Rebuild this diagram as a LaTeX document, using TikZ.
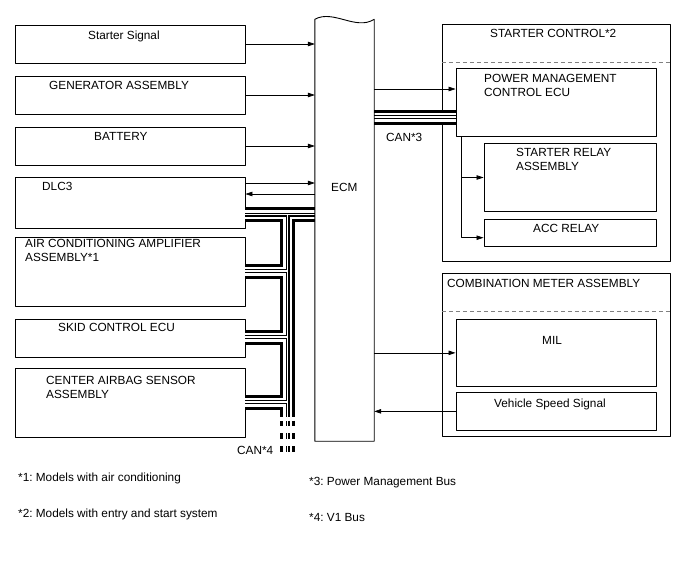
\documentclass[tikz,border=0pt]{standalone}
\usepackage{fontspec}
\setmainfont{Liberation Sans}
\usetikzlibrary{arrows.meta}
\frenchspacing

\begin{document}
\begin{tikzpicture}[>={Triangle[length=7pt,width=4.5pt]},line join=round,x=1pt,y=-1pt,
	font=\fontsize{11.8}{14}\selectfont,
	box/.style={draw,rectangle,inner sep=0pt,line width=.9pt},
	txt/.style={anchor=west,inner sep=0pt,align=left,text height=8.1pt,text depth=0pt},
	txttwo/.style={anchor=north west,inner sep=0pt,align=left},
	sig/.style={line width=.7pt},
	sep/.style={gray,line width=.7pt,dash pattern=on 4pt off 3pt}]
	\useasboundingbox (0,0) rectangle (688,560);
	\path
	(0,183) coordinate (dlcin)
	(0,194) coordinate (dlcout)
	(0,89) coordinate (pmcin)
	(461,0) coordinate (tap)
	(0,237.7) coordinate (acctap)
	(0,62.3) coordinate (ctlsep)
	(0,311) coordinate (metersep)
	(287.5,214.5) coordinate (top4)
	(287.5,271) coordinate (acbus)
	(287.5,337) coordinate (skidbus)
	(287.5,402) coordinate (bagbus)
	(287.5,417) coordinate (end4)
	(287.5,420.7) coordinate (dash4)
	(287.5,452) coordinate (low4)
	(0,117) coordinate (can3)
	;
	% left blocks
	\node[box,minimum width=230pt,minimum height=38pt] (starter) at (130,44) {};
	\node[box,minimum width=230pt,minimum height=38pt] (gen) at (130,95) {};
	\node[box,minimum width=230pt,minimum height=38pt] (batt) at (130,146) {};
	\node[box,minimum width=230pt,minimum height=51pt] (dlc) at (130,202.5) {};
	\node[box,minimum width=230pt,minimum height=69pt] (ac) at (130,271.5) {};
	\node[box,minimum width=230pt,minimum height=38pt] (skid) at (130,338) {};
	\node[box,minimum width=230pt,minimum height=69pt] (airbag) at (130,402.5) {};
	\node[txt] (startert) at (88,35) {Starter Signal};
	\node[txt] (gent) at (49,85) {GENERATOR ASSEMBLY};
	\node[txt] (battt) at (94,136) {BATTERY};
	\node[txt] (dlct) at (42,186) {DLC3};
	\node[txttwo] (act) at (25,239) {AIR CONDITIONING AMPLIFIER\\ASSEMBLY*1};
	\node[txt] (skidt) at (58,327) {SKID CONTROL ECU};
	\node[txttwo] (airbagt) at (46,376) {CENTER AIRBAG SENSOR\\ASSEMBLY};
	% ECM
	\node[inner sep=0pt,minimum width=59pt,minimum height=421.5pt] (ecm) at (344.5,230.25) {};
	\node[txt] (ecmt) at (331,187) {ECM};
	% right blocks
	\node[box,minimum width=228.4pt,minimum height=237pt] (ctl) at (556.5,142.5) {};
	\node[box,minimum width=200.7pt,minimum height=67.7pt] (pmc) at (556.35,102.15) {};
	\node[box,minimum width=172.7pt,minimum height=68.4pt] (relay) at (570.35,177.5) {};
	\node[box,minimum width=172.7pt,minimum height=27pt] (acc) at (570.35,232.5) {};
	\node[box,minimum width=228.4pt,minimum height=163.4pt] (meter) at (556.5,355) {};
	\node[box,minimum width=200.7pt,minimum height=67.7pt] (mil) at (556.35,352.85) {};
	\node[box,minimum width=200.7pt,minimum height=37.3pt] (vss) at (556.35,411.35) {};
	\node[txt] (ctlt) at (490,33) {STARTER CONTROL*2};
	\node[txttwo] (pmct) at (484,74.3) {POWER MANAGEMENT\\CONTROL ECU};
	\node[txttwo] (relayt) at (516,147.7) {STARTER RELAY\\ASSEMBLY};
	\node[txt] (acct) at (533,228.3) {ACC RELAY};
	\node[txt] (metert) at (447,283.3) {COMBINATION METER ASSEMBLY};
	\node[txt] (milt) at (542,340) {MIL};
	\node[txt] (vsst) at (494,403.3) {Vehicle Speed Signal};
	\draw[sep] (ctl.west |- ctlsep) -- (ctl.east |- ctlsep);
	\draw[sep] (meter.west |- metersep) -- (meter.east |- metersep);
	% CAN lines
	\foreach \w/\c in {15pt/black,9pt/white,4pt/black,1.6pt/white}{
		\draw[line width=\w,\c,line cap=butt] (dlc.east |- top4) -- (ecm.west |- top4) (top4) -- (end4)
		(ac.east |- acbus) -- (acbus) (skid.east |- skidbus) -- (skidbus) (airbag.east |- bagbus) -- (bagbus)
		(ecm.east |- can3) -- (pmc.west |- can3);
		\draw[line width=\w,\c,line cap=butt,dash pattern=on 5.5pt off 7.2pt] (dash4) -- (low4);
	}
	\node[txt] (can3t) at (386,137) {CAN*3};
	\node[txt] (can4t) at (237,450) {CAN*4};
	\draw[line width=.9pt] (ecm.north west) .. controls (333,9) and (356,31) .. (ecm.north east) -- (ecm.south east) -- (ecm.south west) -- cycle;
	% signals
	\foreach \n in {starter,gen,batt}\draw[sig,->] (\n.east) -- (\n.east -| ecm.west);
	\draw[sig,->] (dlc.east |- dlcin) -- (ecm.west |- dlcin);
	\draw[sig,->] (ecm.west |- dlcout) -- (dlc.east |- dlcout);
	\draw[sig,->] (ecm.east |- pmcin) -- (pmc.west |- pmcin);
	\draw[sig,->] (pmc.south -| tap) |- (relay.west);
	\draw[sig,->] (pmc.south -| tap) |- (acc.west |- acctap);
	\draw[sig,->] (ecm.east |- mil.west) -- (mil.west);
	\draw[sig,->] (vss.west) -- (vss.west -| ecm.east);
	% notes
	\node[txt] (note1) at (18,477.5) {*1: Models with air conditioning};
	\node[txt] (note2) at (18,513) {*2: Models with entry and start system};
	\node[txt] (note3) at (309,481.7) {*3: Power Management Bus};
	\node[txt] (note4) at (309,517) {*4: V1 Bus};
\end{tikzpicture}
\end{document}
